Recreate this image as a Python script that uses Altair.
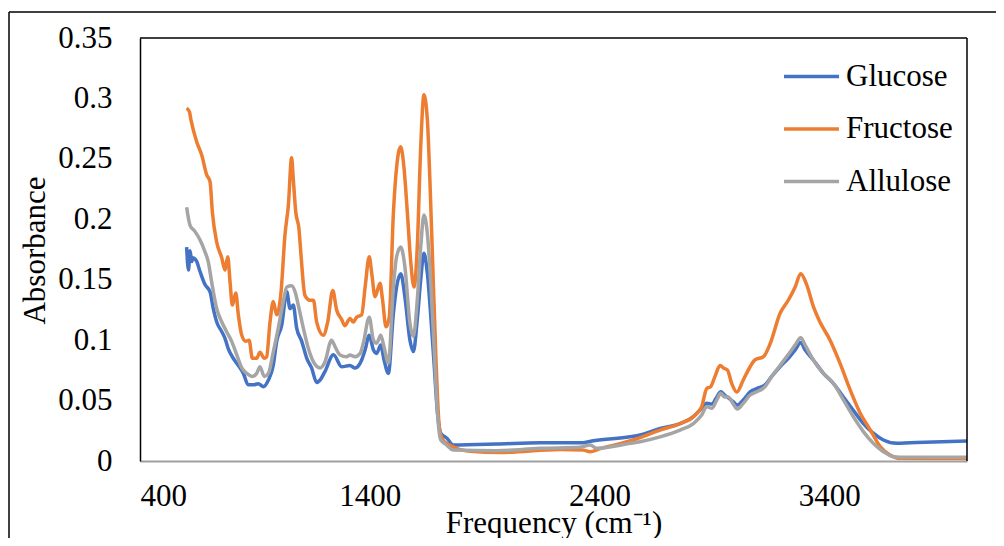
import altair as alt
import pandas as pd

# ---- data ----
glucose_freq = [603, 611, 618, 625, 632, 647, 661, 683, 705, 719, 734, 756, 770, 784, 806, 828, 850, 871, 893, 915,
                937, 959, 980, 995, 1017, 1039, 1053, 1067, 1082, 1104, 1126, 1147, 1169, 1184, 1205, 1242, 1278, 1314,
                1336, 1365, 1380, 1398, 1416, 1430, 1448, 1462, 1481, 1503, 1517, 1535, 1553, 1575, 1590, 1607, 1622,
                1636, 1651, 1665, 1680, 1694, 1709, 1735, 1764, 1953, 2141, 2330, 2374, 2533, 2577, 2664, 2751, 2809,
                2845, 2867, 2889, 2911, 2928, 2945, 2983, 3000, 3026, 3056, 3085, 3121, 3150, 3186, 3222, 3252, 3276,
                3295, 3331, 3375, 3418, 3462, 3505, 3549, 3592, 3636, 3694, 3752, 3854, 4000]
glucose_abs = [0.177, 0.158, 0.174, 0.165, 0.168, 0.165, 0.157, 0.146, 0.140, 0.126, 0.115, 0.107, 0.1015, 0.093,
               0.085, 0.079, 0.0725, 0.063, 0.063, 0.064, 0.0615, 0.067, 0.079, 0.099, 0.1125, 0.140, 0.126, 0.129,
               0.110, 0.099, 0.085, 0.077, 0.065, 0.067, 0.074, 0.088, 0.078, 0.079, 0.077, 0.0836, 0.092, 0.104,
               0.092, 0.089, 0.096, 0.084, 0.0725, 0.122, 0.144, 0.155, 0.136, 0.100, 0.0905, 0.117, 0.150, 0.172,
               0.155, 0.122, 0.081, 0.042, 0.023, 0.019, 0.0132, 0.014, 0.0152, 0.0152, 0.0168, 0.020, 0.0215, 0.027,
               0.031, 0.0367, 0.0436, 0.0477, 0.0472, 0.053, 0.0573, 0.0546, 0.049, 0.0463, 0.0505, 0.0573, 0.060,
               0.063, 0.070, 0.078, 0.085, 0.092, 0.098, 0.092, 0.0836, 0.0725, 0.0643, 0.053, 0.042, 0.031, 0.023,
               0.0174, 0.0146, 0.0152, 0.0157, 0.0165]

fructose_freq = [603, 615, 622, 647, 669, 690, 705, 715, 734, 756, 770, 782, 792, 802, 817, 828, 843, 860, 875, 889,
                 908, 922, 941, 951, 966, 980, 995, 1014, 1031, 1046, 1060, 1067, 1078, 1092, 1101, 1118, 1140, 1155,
                 1169, 1198, 1217, 1239, 1256, 1278, 1292, 1314, 1329, 1343, 1365, 1380, 1398, 1409, 1423, 1445, 1456,
                 1471, 1485, 1503, 1517, 1535, 1549, 1564, 1578, 1593, 1607, 1622, 1636, 1651, 1662, 1674, 1689, 1703,
                 1720, 1750, 1837, 1967, 2228, 2330, 2359, 2400, 2547, 2664, 2751, 2809, 2845, 2867, 2884, 2903, 2925,
                 2942, 2957, 2976, 2998, 3026, 3056, 3077, 3114, 3143, 3186, 3222, 3252, 3276, 3302, 3331, 3360, 3404,
                 3447, 3491, 3534, 3578, 3622, 3665, 3709, 3850, 4000]
fructose_abs = [0.292, 0.289, 0.282, 0.264, 0.253, 0.237, 0.231, 0.206, 0.181, 0.168, 0.158, 0.169, 0.148, 0.129,
                0.139, 0.121, 0.104, 0.099, 0.100, 0.085, 0.085, 0.090, 0.085, 0.086, 0.115, 0.132, 0.121, 0.140,
                0.187, 0.212, 0.251, 0.234, 0.206, 0.192, 0.170, 0.137, 0.133, 0.133, 0.115, 0.104, 0.115, 0.141,
                0.125, 0.117, 0.112, 0.118, 0.115, 0.119, 0.121, 0.144, 0.169, 0.155, 0.136, 0.147, 0.133, 0.111,
                0.119, 0.205, 0.243, 0.260, 0.243, 0.205, 0.166, 0.144, 0.177, 0.260, 0.303, 0.282, 0.232, 0.164,
                0.081, 0.028, 0.017, 0.013, 0.008, 0.007, 0.0095, 0.009, 0.0077, 0.010, 0.0174, 0.0256, 0.031, 0.0367,
                0.045, 0.060, 0.0615, 0.070, 0.079, 0.0767, 0.0753, 0.064, 0.057, 0.067, 0.078, 0.0836, 0.0863, 0.097,
                0.122, 0.133, 0.144, 0.155, 0.146, 0.128, 0.115, 0.100, 0.081, 0.059, 0.040, 0.026, 0.012, 0.005,
                0.0022, 0.002, 0.002]

allulose_freq = [603, 618, 639, 661, 683, 697, 712, 734, 756, 777, 799, 821, 843, 865, 889, 908, 922, 941, 959, 980,
                 1002, 1024, 1039, 1060, 1075, 1089, 1111, 1133, 1155, 1184, 1205, 1234, 1249, 1271, 1300, 1314, 1336,
                 1358, 1372, 1398, 1416, 1430, 1448, 1462, 1481, 1503, 1517, 1535, 1553, 1575, 1590, 1607, 1622, 1636,
                 1651, 1665, 1680, 1694, 1709, 1735, 1764, 1953, 2141, 2315, 2359, 2388, 2533, 2577, 2664, 2751, 2809,
                 2845, 2867, 2889, 2911, 2928, 2945, 2960, 2983, 3000, 3026, 3056, 3085, 3121, 3150, 3186, 3222, 3252,
                 3276, 3295, 3331, 3375, 3418, 3462, 3505, 3549, 3592, 3636, 3679, 3737, 4000]
allulose_abs = [0.210, 0.195, 0.190, 0.183, 0.173, 0.165, 0.148, 0.126, 0.115, 0.107, 0.099, 0.088, 0.077, 0.0725,
                0.070, 0.0725, 0.078, 0.070, 0.0725, 0.090, 0.110, 0.132, 0.144, 0.145, 0.140, 0.129, 0.110, 0.093,
                0.082, 0.077, 0.082, 0.100, 0.0946, 0.0877, 0.0863, 0.0877, 0.0863, 0.089, 0.0974, 0.119, 0.100,
                0.0974, 0.104, 0.0946, 0.081, 0.144, 0.169, 0.177, 0.161, 0.114, 0.103, 0.133, 0.177, 0.2035, 0.188,
                0.150, 0.0946, 0.042, 0.0174, 0.0132, 0.0091, 0.0085, 0.0105, 0.0113, 0.0132, 0.0105, 0.0146, 0.016,
                0.020, 0.0256, 0.031, 0.038, 0.045, 0.0436, 0.0505, 0.056, 0.053, 0.053, 0.047, 0.043, 0.0477, 0.0546,
                0.0573, 0.0615, 0.070, 0.079, 0.088, 0.096, 0.102, 0.096, 0.0836, 0.0725, 0.0643, 0.0505, 0.0367,
                0.0243, 0.0146, 0.0077, 0.0036, 0.003, 0.003]

series_names = ["Glucose", "Fructose", "Allulose"]
series_colors = ["#4472C4", "#ED7D31", "#A5A5A5"]
x_ticks = [400, 1400, 2400, 3400]
y_ticks = [0, 0.05, 0.1, 0.15, 0.2, 0.25, 0.3, 0.35]

frames = []
for name, fq, ab in [("Glucose", glucose_freq, glucose_abs),
                     ("Fructose", fructose_freq, fructose_abs),
                     ("Allulose", allulose_freq, allulose_abs)]:
    frames.append(pd.DataFrame({"freq": fq, "abs": ab, "series": name}))
df = pd.concat(frames, ignore_index=True)

FONT = "Liberation Serif"
FS = 31
W, H = 827, 423

x_enc = alt.X("freq:Q",
              scale=alt.Scale(domain=[400, 4000], nice=False, zero=False),
              axis=alt.Axis(values=x_ticks, format="d", grid=False, ticks=False, tickSize=0,
                            labelPadding=20, domainColor="#A0A0A0", domainWidth=2,
                            labelFont=FONT, labelFontSize=FS, labelColor="black",
                            title="Frequency (cm⁻¹)", titleY=71, titleBaseline="alphabetic",
                            titleFont=FONT, titleFontSize=FS, titleColor="black",
                            titleFontWeight="normal"))
y_enc = alt.Y("abs:Q",
              scale=alt.Scale(domain=[0, 0.35], nice=False, zero=True),
              axis=alt.Axis(values=y_ticks, format="~g", grid=False, ticks=False, tickSize=0,
                            labelPadding=28, domainColor="black", domainWidth=1.5,
                            labelFont=FONT, labelFontSize=FS, labelColor="black",
                            title="Absorbance", titleAngle=270, titleX=-96, titleY=212,
                            titleFont=FONT, titleFontSize=FS, titleColor="black",
                            titleAlign="center", titleBaseline="alphabetic", titleFontWeight="normal"))
color_enc = alt.Color("series:N",
                      scale=alt.Scale(domain=series_names, range=series_colors),
                      legend=alt.Legend(title=None, orient="none", legendX=642, legendY=9,
                                        symbolType="stroke", symbolSize=3025, symbolStrokeWidth=3.5,
                                        labelOffset=5, rowPadding=7.5, padding=0,
                                        labelFont=FONT, labelFontSize=FS, labelColor="black"))

layers = []
for name in series_names:
    layers.append(
        alt.Chart(df).transform_filter(alt.datum.series == name)
        .mark_line(strokeWidth=3.5, interpolate="monotone")
        .encode(x=x_enc, y=y_enc, color=color_enc)
    )

# plot-area border (top, right) and the outer chart frame
border_top = alt.Chart().mark_rule(color="black", strokeWidth=1.5).encode(
    x=alt.value(0), x2=alt.value(W), y=alt.value(0))
border_right = alt.Chart().mark_rule(color="black", strokeWidth=1.5).encode(
    x=alt.value(W), y=alt.value(0), y2=alt.value(H))
frame_top = alt.Chart().mark_rule(color="black", strokeWidth=1.5, clip=False).encode(
    x=alt.value(-131), x2=alt.value(860), y=alt.value(-26))
frame_left = alt.Chart().mark_rule(color="black", strokeWidth=1.5, clip=False).encode(
    x=alt.value(-131), y=alt.value(-26), y2=alt.value(520))

chart = alt.layer(*layers, border_top, border_right, frame_top, frame_left).properties(
    width=W, height=H,
    background="white",
    autosize=alt.AutoSizeParams(type="none"),
    padding={"left": 132, "top": 30, "right": 29, "bottom": 77},
).configure_view(stroke=None)

chart.save("out.html", embed_options={"renderer": "svg", "actions": False})
